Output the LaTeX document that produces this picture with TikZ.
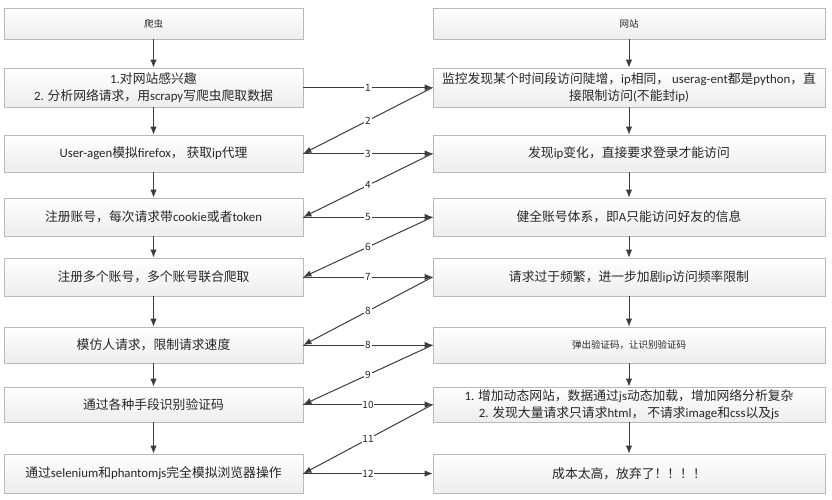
\documentclass[tikz,border=0pt]{standalone}
\usepackage{fontspec}
\setmainfont{Noto Sans CJK SC}
\newfontfamily\latf{Carlito}
\newcommand\latn[1]{{\latf #1}}
\usetikzlibrary{arrows.meta,shadows}
\definecolor{txt}{HTML}{262626}
\definecolor{ln}{HTML}{3C3C3C}
\tikzset{
  box/.style={draw=gray!55, line width=0.8pt, top color=white, bottom color=gray!14,
    drop shadow={shadow xshift=1.2pt, shadow yshift=-1.2pt, opacity=0.25},
    align=center, text=txt, inner sep=0pt, font=\fontsize{12.8}{17}\selectfont},
  lbox/.style={box, minimum width=299pt},
  rbox/.style={box, minimum width=392pt},
  small/.style={font=\fontsize{9.5}{11}\selectfont},
  conn/.style={draw=ln, line width=1pt, -{Latex[length=8pt,width=6.5pt]}},
  lab/.style={fill=white, inner sep=0.8pt, text=txt, font=\fontsize{10}{11}\selectfont}
}
\begin{document}
\begin{tikzpicture}[x=1pt,y=-1pt]
\useasboundingbox[fill=white] (0,0) rectangle (832,500);
% left column
\node[lbox, small, minimum height=31pt] (L0) at (153.5,23.5) {爬虫};
\node[lbox, minimum height=39pt] (L1) at (153.5,87.5) {\latn{1.}对网站感兴趣\\\latn{2.} 分析网络请求，用\latn{scrapy}写爬虫爬取数据};
\node[lbox, minimum height=37pt] (L2) at (153.5,153.5) {\latn{User-agen}模拟\latn{firefox}， 获取\latn{ip}代理};
\node[lbox, minimum height=38pt] (L3) at (153.5,217) {注册账号，每次请求带\latn{cookie}或者\latn{token}};
\node[lbox, minimum height=38pt] (L4) at (153.5,277) {注册多个账号，多个账号联合爬取};
\node[lbox, minimum height=36pt] (L5) at (153.5,345) {模仿人请求，限制请求速度};
\node[lbox, minimum height=35pt] (L6) at (153.5,404.5) {通过各种手段识别验证码};
\node[lbox, minimum height=39pt] (L7) at (153.5,473.5) {通过\latn{selenium}和\latn{phantomjs}完全模拟浏览器操作};
% right column
\node[rbox, small, minimum height=31pt] (R0) at (629,23.5) {网站};
\node[rbox, minimum height=39pt] (R1) at (629,87.5) {监控发现某个时间段访问陡增，\latn{ip}相同， \latn{userag-ent}都是\latn{python}，直\\接限制访问\latn{(}不能封\latn{ip)}};
\node[rbox, minimum height=37pt] (R2) at (629,153.5) {发现\latn{ip}变化，直接要求登录才能访问};
\node[rbox, minimum height=38pt] (R3) at (629,217) {健全账号体系，即\latn{A}只能访问好友的信息};
\node[rbox, minimum height=38pt] (R4) at (629,277) {请求过于频繁，进一步加剧\latn{ip}访问频率限制};
\node[rbox, small, minimum height=36pt] (R5) at (629,345) {弹出验证码，让识别验证码};
\node[rbox, minimum height=35pt] (R6) at (629,404.5) {\latn{1.} 增加动态网站，数据通过\latn{js}动态加载，增加网络分析复杂\\\latn{2.} 发现大量请求只请求\latn{html}， 不请求\latn{image}和\latn{css}以及\latn{js}};
\node[rbox, minimum height=39pt] (R7) at (629,473.5) {成本太高，放弃了！！！！};
% vertical flow
\foreach \a/\b in {0/1,1/2,2/3,3/4,4/5,5/6,6/7}{
  \draw[conn] (L\a) -- (L\b);
  \draw[conn] (R\a) -- (R\b);
}
% cross connectors
\draw[conn] (L1.east) -- node[lab]{1} (R1.west);
\draw[conn] (R1.west) -- node[lab]{2} (L2.east);
\draw[conn] (L2.east) -- node[lab]{3} (R2.west);
\draw[conn] (R2.west) -- node[lab]{4} (L3.east);
\draw[conn] (L3.east) -- node[lab]{5} (R3.west);
\draw[conn] (R3.west) -- node[lab]{6} (L4.east);
\draw[conn] (L4.east) -- node[lab]{7} (R4.west);
\draw[conn] (R4.west) -- node[lab]{8} (L5.east);
\draw[conn] (L5.east) -- node[lab]{8} (R5.west);
\draw[conn] (R5.west) -- node[lab]{9} (L6.east);
\draw[conn] (L6.east) -- node[lab]{10} (R6.west);
\draw[conn] (R6.west) -- node[lab]{11} (L7.east);
\draw[conn] (L7.east) -- node[lab]{12} (R7.west);
\end{tikzpicture}
\end{document}
